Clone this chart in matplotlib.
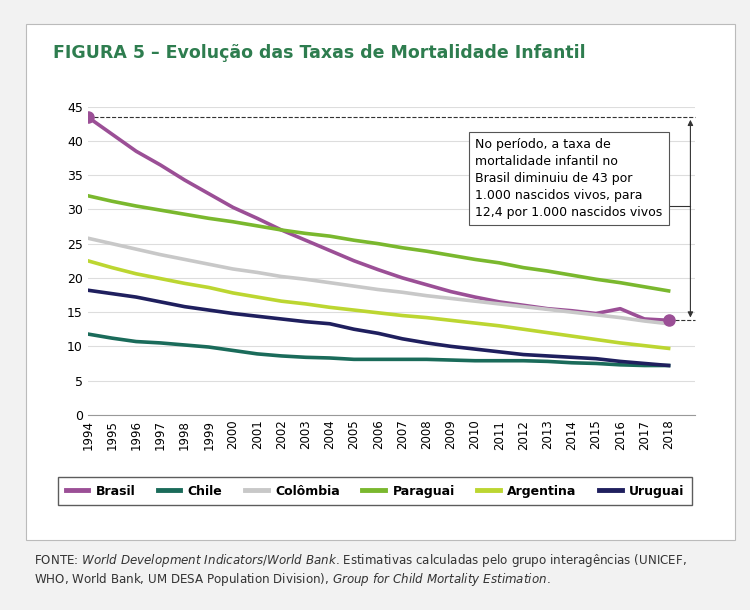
import matplotlib
matplotlib.use("Agg")
import matplotlib.pyplot as plt
from matplotlib.patches import Rectangle

years = list(range(1994, 2019))
brasil = [43.5, 41, 38.5, 36.5, 34.3, 32.3, 30.3, 28.7, 27, 25.5, 24, 22.5, 21.2, 20, 19, 18,
          17.2, 16.5, 16, 15.5, 15.2, 14.8, 15.5, 14, 13.8]
chile = [11.8, 11.2, 10.7, 10.5, 10.2, 9.9, 9.4, 8.9, 8.6, 8.4, 8.3, 8.1, 8.1, 8.1, 8.1, 8.0,
         7.9, 7.9, 7.9, 7.8, 7.6, 7.5, 7.3, 7.2, 7.2]
colombia = [25.8, 25, 24.2, 23.4, 22.7, 22, 21.3, 20.8, 20.2, 19.8, 19.3, 18.8, 18.3, 17.9,
            17.4, 17, 16.6, 16.2, 15.8, 15.4, 15, 14.6, 14.2, 13.7, 13.3]
paraguai = [32, 31.2, 30.5, 29.9, 29.3, 28.7, 28.2, 27.6, 27, 26.5, 26.1, 25.5, 25, 24.4,
            23.9, 23.3, 22.7, 22.2, 21.5, 21, 20.4, 19.8, 19.3, 18.7, 18.1]
argentina = [22.5, 21.5, 20.6, 19.9, 19.2, 18.6, 17.8, 17.2, 16.6, 16.2, 15.7, 15.3, 14.9,
             14.5, 14.2, 13.8, 13.4, 13, 12.5, 12, 11.5, 11, 10.5, 10.1, 9.7]
uruguai = [18.2, 17.7, 17.2, 16.5, 15.8, 15.3, 14.8, 14.4, 14, 13.6, 13.3, 12.5, 11.9, 11.1,
           10.5, 10, 9.6, 9.2, 8.8, 8.6, 8.4, 8.2, 7.8, 7.5, 7.2]

series = [("Brasil", brasil, "#9b4f96"), ("Chile", chile, "#1a6b5a"),
          ("Colômbia", colombia, "#c8c8c8"), ("Paraguai", paraguai, "#7ab82e"),
          ("Argentina", argentina, "#bcd631"), ("Uruguai", uruguai, "#1f1f5e")]

fig = plt.figure(figsize=(7.5, 6.1), dpi=100)
fig.patch.set_facecolor("#f2f2f2")
fig.patches.append(Rectangle((0.035, 0.115), 0.945, 0.845, transform=fig.transFigure,
                             facecolor="white", edgecolor="#bbbbbb", lw=0.8, zorder=-10))
fig.text(0.07, 0.905, "FIGURA 5 – Evolução das Taxas de Mortalidade Infantil",
         color="#2e7d4f", fontsize=12.5, fontweight="bold")

ax = fig.add_axes([0.117, 0.32, 0.81, 0.505])
ax.set_zorder(2)
ax.patch.set_alpha(0)
for name, vals, col in series:
    ax.plot(years, vals, color=col, lw=2.6, label=name, zorder=3)
ax.plot([years[0], years[-1]], [brasil[0], brasil[-1]], "o", color="#9b4f96", ms=8, zorder=4)

ax.set_xlim(1994, 2019.1)
ax.set_ylim(0, 45)
ax.set_yticks(range(0, 46, 5))
ax.set_xticks(years)
ax.set_xticklabels([str(y) for y in years], rotation=90, fontsize=8.5)
ax.tick_params(axis="y", labelsize=9, length=0)
ax.tick_params(axis="x", length=0)
ax.grid(axis="y", color="#dddddd", lw=0.8)
for s in ["top", "right", "left"]:
    ax.spines[s].set_visible(False)
ax.spines["bottom"].set_color("#999999")

# annotation
ax.plot([1994, 2019.1], [brasil[0], brasil[0]], ls="--", color="#333333", lw=0.8, clip_on=False)
ax.plot([2018, 2019.1], [brasil[-1], brasil[-1]], ls="--", color="#333333", lw=0.8, clip_on=False)
ax.annotate("", xy=(2018.9, brasil[-1]), xytext=(2018.9, brasil[0]),
            arrowprops=dict(arrowstyle="<|-|>", color="#333333", lw=0.8,
                            mutation_scale=8), annotation_clip=False)
ax.plot([2017.4, 2018.9], [30.5, 30.5], color="#333333", lw=0.8, clip_on=False)
ax.text(2010, 34.5, "No período, a taxa de\nmortalidade infantil no\nBrasil diminuiu de 43 por\n"
        "1.000 nascidos vivos, para\n12,4 por 1.000 nascidos vivos",
        fontsize=9, va="center", ha="left", linespacing=1.4, zorder=5,
        bbox=dict(boxstyle="square,pad=0.5", fc="white", ec="#555555", lw=0.8))

leg = fig.legend(loc="center", bbox_to_anchor=(0.5, 0.195), ncol=6, frameon=True,
                 fancybox=False, edgecolor="#333333", prop={"weight": "bold", "size": 9},
                 handlelength=1.8, columnspacing=1.8, borderpad=0.6, handletextpad=0.6)
for line in leg.get_lines():
    line.set_linewidth(3.5)

fig.text(0.045, 0.075, "FONTE: $\\it{World\\ Development\\ Indicators/World\\ Bank}$. "
         "Estimativas calculadas pelo grupo interagências (UNICEF,", fontsize=8.6, color="#333333")
fig.text(0.045, 0.045, "WHO, World Bank, UM DESA Population Division), "
         "$\\it{Group\\ for\\ Child\\ Mortality\\ Estimation}$.", fontsize=8.6, color="#333333")

fig.savefig("out.png", dpi=100, facecolor=fig.get_facecolor())
